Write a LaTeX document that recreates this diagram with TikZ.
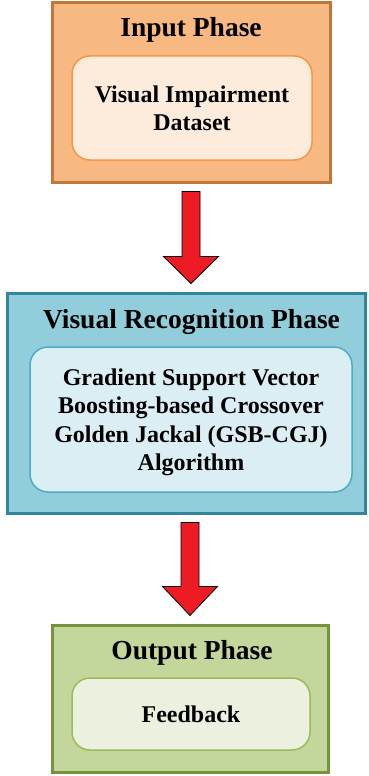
\documentclass[tikz,border=0pt]{standalone}
\usepackage{fontspec}
\setmainfont{Liberation Serif}
\usetikzlibrary{calc}
\definecolor{orfill}{HTML}{F8B882}
\definecolor{ordraw}{HTML}{C0773A}
\definecolor{orin}{HTML}{FDEBDB}
\definecolor{orindraw}{HTML}{F79646}
\definecolor{blfill}{HTML}{92CDDC}
\definecolor{bldraw}{HTML}{31859C}
\definecolor{blin}{HTML}{DBEEF4}
\definecolor{blindraw}{HTML}{4BACC6}
\definecolor{grfill}{HTML}{C3D69B}
\definecolor{grdraw}{HTML}{76923C}
\definecolor{grin}{HTML}{EBF1DE}
\definecolor{grindraw}{HTML}{9BBB59}
\definecolor{arrred}{HTML}{ED1C24}
\tikzset{
  phasebox/.style={draw, line width=3pt, inner sep=0pt, rectangle},
  innerbox/.style={draw, line width=1.5pt, rounded corners=18pt, inner sep=0pt, align=center,
    font=\bfseries\fontsize{24}{28.5}\selectfont, text depth=0pt},
  titletext/.style={anchor=base, inner sep=0pt, font=\bfseries\fontsize{27.5}{32}\selectfont},
  bigarrow/.style={draw=black, line width=0.8pt, fill=arrred, line join=miter}
}
\newcommand{\flowarrow}[4]{%
  \draw[bigarrow] let \p1=($(#1.south)+(0,-8pt)$), \p2=($(#2.north)+(0,8pt)$), \p3=(#3) in
    (\x3-9pt,\y1) -- (\x3+9pt,\y1) -- (\x3+9pt,\y2+#4) -- (\x3+27.5pt,\y2+#4)
    -- (\x3,\y2) -- (\x3-27.5pt,\y2+#4) -- (\x3-9pt,\y2+#4) -- cycle;}
\begin{document}
\begin{tikzpicture}[x=1pt,y=-1pt]
\useasboundingbox (0,0) rectangle (369,776);
% Input phase
\node[phasebox, fill=orfill, draw=ordraw, minimum width=278pt, minimum height=179pt] (inbox) at (191,92.5) {};
\node[titletext] (intitle) at (191,36.5) {Input Phase};
\node[innerbox, fill=orin, draw=orindraw, minimum width=240pt, minimum height=104pt] (indata) at (192,108) {Visual Impairment\\Dataset};
% Visual recognition phase
\node[phasebox, fill=blfill, draw=bldraw, minimum width=358pt, minimum height=220pt] (midbox) at (186,403) {};
\node[titletext] (midtitle) at (191.5,328) {Visual Recognition Phase};
\node[innerbox, fill=blin, draw=blindraw, minimum width=322pt, minimum height=145pt] (midalg) at (191,419.5) {Gradient Support Vector\\Boosting-based Crossover\\Golden Jackal (GSB-CGJ)\\Algorithm};
% Output phase
\node[phasebox, fill=grfill, draw=grdraw, minimum width=276pt, minimum height=147pt] (outbox) at (190,698.5) {};
\node[titletext] (outtitle) at (192,659) {Output Phase};
\node[innerbox, fill=grin, draw=grindraw, minimum width=238pt, minimum height=72pt] (outfb) at (191,714) {Feedback};
% arrows
\coordinate (arrx1) at (191,0);
\coordinate (arrx2) at (190,0);
\flowarrow{inbox}{midbox}{arrx1}{27pt}
\flowarrow{midbox}{outbox}{arrx2}{29pt}
\end{tikzpicture}
\end{document}
